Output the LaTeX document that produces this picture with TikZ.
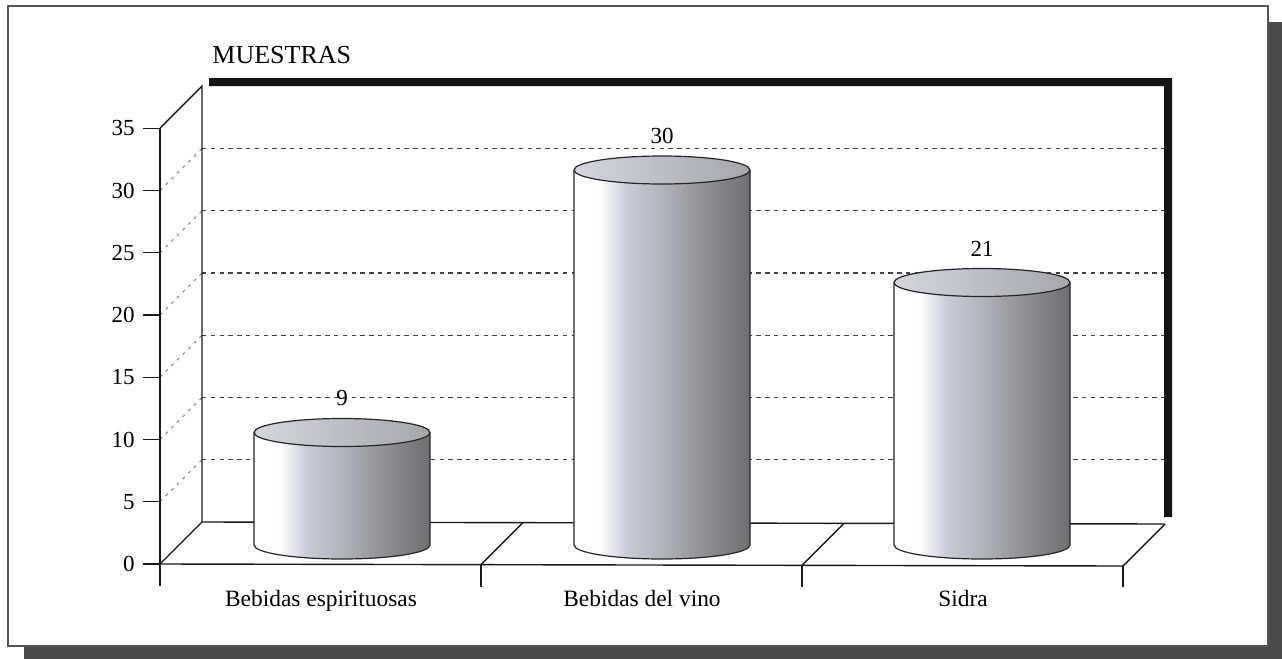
\documentclass[tikz,border=0pt]{standalone}
\usepackage{fontspec}
\setmainfont{Liberation Serif}
\definecolor{shadowc}{HTML}{4A4A4A}
\definecolor{framec}{HTML}{555555}
\definecolor{cylA}{HTML}{C8CBDA}
\definecolor{cylB}{HTML}{B2B4BC}
\definecolor{cylC}{HTML}{8E9094}
\definecolor{cylD}{HTML}{6C6E70}
\definecolor{topA}{HTML}{D4D6DE}
\definecolor{topB}{HTML}{A4A6AC}
\pgfdeclarehorizontalshading{cylbody}{100bp}{color(0bp)=(white); color(25bp)=(white); color(32bp)=(white); color(40bp)=(cylA); color(50bp)=(cylB); color(62bp)=(cylC); color(75bp)=(cylD); color(100bp)=(cylD)}
\pgfdeclarehorizontalshading{cyltop}{100bp}{color(0bp)=(topA); color(25bp)=(topA); color(75bp)=(topB); color(100bp)=(topB)}
\newcommand\drawcyl[3]{%
  \path[shading=cylbody] (#1-88,#2) -- (#1-88,#3) arc[start angle=180,end angle=0,x radius=88,y radius=14] -- (#1+88,#2) -- cycle;
  \draw[cyledge] (#1-88,#2) -- (#1-88,#3) arc[start angle=180,end angle=0,x radius=88,y radius=14] -- (#1+88,#2);
  \draw[cyledge,shading=cyltop] (#1,#2) ellipse[x radius=88,y radius=14];
}
\begin{document}
\begin{tikzpicture}[x=0.5pt,y=-0.5pt,
  axisline/.style={draw=black!90,line width=0.7pt},
  gridline/.style={draw=black!75,line width=0.6pt,dash pattern=on 2.2pt off 2.2pt},
  diagdot/.style={draw=black!55,line width=0.5pt,dash pattern=on 1.5pt off 2.5pt},
  cyledge/.style={draw=black!85,line width=0.6pt},
  numlabel/.style={font=\fontsize{11.5}{13}\selectfont,inner sep=0pt},
  catlabel/.style={font=\fontsize{11.7}{13}\selectfont,inner sep=0pt},
  titlelabel/.style={font=\fontsize{13}{15}\selectfont,inner sep=0pt}]
\useasboundingbox (0,0) rectangle (1282,659);
% outer frame with shadow
\fill[shadowc] (24,647) rectangle (1282,659);
\fill[shadowc] (1269,22) rectangle (1282,659);
\fill[white] (8,6) rectangle (1268,646);
\draw[framec,line width=0.6pt] (8,6) rectangle (1268,646);
% back wall black edge
\fill[black!92] (209,78) -- (1172,78) -- (1172,517) -- (1164,517) -- (1164,86) -- (209,86) -- cycle;
% grid lines on back wall
\foreach \v in {5,10,...,30}{
  \draw[gridline] (202,522-12.45*\v) -- (1164,522-12.45*\v);
  \draw[diagdot] (160,564-12.45*\v) -- (202,522-12.45*\v);
}
% wall left edge and top diagonal
\draw[axisline] (160,128.25) -- (202,86) -- (202,522);
% floor
\draw[axisline] (202,522) -- (1164,524);
\draw[axisline] (160,564) -- (1123,566);
\draw[axisline] (160,564) -- (202,522);
\draw[axisline] (481,564.7) -- (523,522.7);
\draw[axisline] (802,565.3) -- (844,523.3);
\draw[axisline] (1123,566) -- (1165,524);
% category ticks
\draw[axisline] (160,564) -- (160,586);
\draw[axisline] (481,564.7) -- (481,587);
\draw[axisline] (802,565.3) -- (802,587);
\draw[axisline] (1123,566) -- (1123,587);
% front axis
\draw[axisline] (160,128.25) -- (160,564);
\foreach \v in {0,5,...,35}{
  \draw[axisline] (143,564-12.45*\v) -- (160,564-12.45*\v);
  \node[numlabel,anchor=east] (y\v) at (135,564-12.45*\v) {\v};
}
% cylinders
\drawcyl{342}{432.5}{545}
\drawcyl{662}{170}{545}
\drawcyl{982}{282.5}{545}
% value labels
\node[numlabel] (v1) at (342,398) {9};
\node[numlabel] (v2) at (662,136) {30};
\node[numlabel] (v3) at (982,249) {21};
% category labels
\node[catlabel,anchor=base] (c1) at (321,606) {Bebidas espirituosas};
\node[catlabel,anchor=base] (c2) at (642,606) {Bebidas del vino};
\node[catlabel,anchor=base] (c3) at (963,606) {Sidra};
% title
\node[titlelabel,anchor=base west] (t) at (212,63) {MUESTRAS};
\end{tikzpicture}
\end{document}
